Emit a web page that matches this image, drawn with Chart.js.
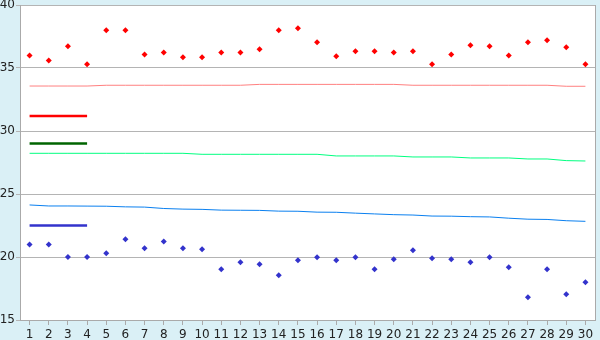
<!DOCTYPE html>
<html>
<head>
<meta charset="utf-8">
<script src="https://cdn.jsdelivr.net/npm/chart.js@4/dist/chart.umd.min.js"></script>
<style>
  body { margin: 0; background: #DAF0F6; }
  canvas { display: block; }
</style>
</head>
<body>
<canvas id="tempChart" width="600" height="340"></canvas>
<script>
// categories (days)
const days = ['1','2','3','4','5','6','7','8','9','10','11','12','13','14','15','16','17','18','19','20','21','22','23','24','25','26','27','28','29','30'];

// daily highs / lows (diamond markers)
const highs = [36.0, 35.6, 36.72, 35.29, 37.99, 38.0, 36.08, 36.24, 35.85, 35.85,
               36.24, 36.24, 36.48, 37.99, 38.15, 37.04, 35.93, 36.32, 36.32, 36.24,
               36.32, 35.29, 36.08, 36.8, 36.72, 36.0, 37.04, 37.2, 36.64, 35.29];
const lows = [21.0, 21.0, 20.0, 20.0, 20.29, 21.4, 20.69, 21.24, 20.69, 20.61,
              19.02, 19.58, 19.42, 18.55, 19.74, 19.98, 19.74, 19.98, 19.02, 19.82,
              20.53, 19.9, 19.82, 19.58, 19.98, 19.18, 16.8, 19.02, 17.04, 17.99];

// normal lines
const normHigh = [33.57, 33.57, 33.57, 33.57, 33.63, 33.63, 33.63, 33.63, 33.63, 33.63,
                  33.63, 33.63, 33.7, 33.7, 33.7, 33.7, 33.7, 33.7, 33.7, 33.7,
                  33.63, 33.63, 33.63, 33.63, 33.63, 33.63, 33.63, 33.63, 33.55, 33.55];
const normMean = [28.23, 28.23, 28.23, 28.23, 28.23, 28.23, 28.23, 28.23, 28.23, 28.15,
                  28.15, 28.15, 28.15, 28.15, 28.15, 28.15, 28.02, 28.02, 28.02, 28.02,
                  27.94, 27.94, 27.94, 27.86, 27.86, 27.86, 27.78, 27.78, 27.65, 27.62];
const normLow = [24.13, 24.05, 24.05, 24.04, 24.03, 23.98, 23.96, 23.85, 23.8, 23.78,
                 23.72, 23.71, 23.7, 23.64, 23.63, 23.56, 23.55, 23.48, 23.42, 23.36,
                 23.33, 23.25, 23.24, 23.2, 23.18, 23.08, 23.0, 22.98, 22.88, 22.83];

// short legend-like bars over days 1-4
const avgHigh = [31.2, 31.2, 31.2, 31.2];
const avgMean = [29.0, 29.0, 29.0, 29.0];
const avgLow = [22.5, 22.5, 22.5, 22.5];

// y axis
const yMin = 15, yMax = 40, yStep = 5;

const frame = {
    id: 'frame',
    beforeDraw(chart) {
        const { ctx, chartArea: a } = chart;
        ctx.save();
        ctx.fillStyle = '#DAF0F6';
        ctx.fillRect(0, 0, chart.width, chart.height);
        ctx.fillStyle = '#FFFFFF';
        ctx.fillRect(a.left, a.top, a.right - a.left, a.bottom - a.top);
        ctx.restore();
    },
    beforeDatasetsDraw(chart) {
        const { ctx, chartArea: a } = chart;
        ctx.save();
        ctx.strokeStyle = '#AAAAAA';
        ctx.lineWidth = 1;
        ctx.beginPath();
        ctx.moveTo(Math.round(a.right) + 0.5, a.top);
        ctx.lineTo(Math.round(a.right) + 0.5, a.bottom);
        ctx.stroke();
        ctx.restore();
    }
};

function line(data, color, width) {
    return {
        type: 'line', data: data, borderColor: color, borderWidth: width,
        pointRadius: 0, fill: false, tension: 0
    };
}
function dots(data, color) {
    return {
        type: 'line', data: data, showLine: false, pointStyle: 'rectRot',
        pointRadius: 3, backgroundColor: color, borderColor: color, borderWidth: 0
    };
}

const chartCtx = document.getElementById('tempChart').getContext('2d');
const tempChart = new Chart(chartCtx, {
    type: 'line',
    data: {
        labels: days,
        datasets: [
            line(normHigh, '#FF8080', 1),
            line(normMean, '#00FF80', 1),
            line(normLow, '#0A80F0', 1),
            line(avgHigh, '#FF0000', 2.5),
            line(avgMean, '#006400', 2.5),
            line(avgLow, '#3333CC', 2.5),
            dots(highs, '#FF0000'),
            dots(lows, '#3333CC')
        ]
    },
    options: {
        responsive: false,
        animation: false,
        layout: { padding: { top: 5, right: 5, left: 0, bottom: 0 } },
        plugins: { legend: { display: false }, tooltip: { enabled: false } },
        scales: {
            x: {
                offset: true,
                grid: { offset: false, drawOnChartArea: false, drawTicks: true, tickLength: 5, color: '#AAAAAA' },
                border: { color: '#AAAAAA' },
                ticks: { color: '#222', font: { family: 'DejaVu Sans', size: 12 }, padding: 3, maxRotation: 0, autoSkip: false },
                afterFit(s) { s.height = 20; s.paddingLeft = 0; s.paddingRight = 0; }
            },
            y: {
                min: yMin, max: yMax,
                grid: { color: '#B4B4B4', tickLength: 4 },
                border: { color: '#AAAAAA' },
                ticks: { stepSize: yStep, color: '#222', font: { family: 'DejaVu Sans', size: 12 }, padding: 1 },
                afterFit(s) { s.width = 20; s.paddingTop = 0; s.paddingBottom = 0; }
            }
        }
    },
    plugins: [frame]
});
</script>
</body>
</html>
